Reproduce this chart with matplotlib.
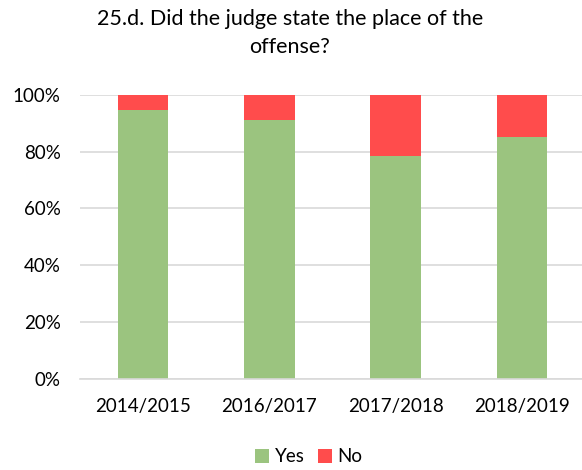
import matplotlib.pyplot as plt
import numpy as np

years = ["2014/2015", "2016/2017", "2017/2018", "2018/2019"]
yes = np.array([94.6, 91.1, 78.5, 85.3])
no = 100 - yes
title_lines = ["25.d. Did the judge state the place of the", "offense?"]

plt.rcParams["font.family"] = ["Lato", "DejaVu Sans"]

fig = plt.figure(figsize=(5.82, 4.70), dpi=100)
ax = fig.add_axes([80 / 582, 1 - 378.5 / 470, 505 / 582, 283.5 / 470])

x = np.arange(len(years))
ax.bar(x, yes, width=0.4, color="#9bc47f", label="Yes", zorder=2)
ax.bar(x, no, width=0.4, bottom=yes, color="#ff4c4c", label="No", zorder=2)

ax.set_xlim(-0.5, len(years) - 0.5)
ax.set_ylim(0, 100)
ax.set_yticks(np.arange(0, 101, 20))
ax.set_yticklabels([f"{v}%" for v in range(0, 101, 20)])
ax.set_xticks(x)
ax.set_xticklabels(years)
ax.yaxis.grid(True, color="#d9d9d9", linewidth=1.2, zorder=0)
ax.tick_params(length=0, labelsize=13.5, colors="#000000")
ax.tick_params(axis="x", pad=14)
ax.tick_params(axis="y", pad=14)
for side in ["top", "right", "left"]:
    ax.spines[side].set_visible(False)
ax.spines["bottom"].set_color("#d9d9d9")
ax.spines["bottom"].set_linewidth(1.2)

# two-line title, each line centred on its own baseline
for line, base in zip(title_lines, [25, 53]):
    fig.text(290 / 582, 1 - base / 470, line, ha="center", va="baseline",
             fontsize=15.5)

fig.legend(loc="center", bbox_to_anchor=(309 / 582, 1 - 457 / 470), ncol=2,
           frameon=False, fontsize=13.5, handlelength=0.75, handleheight=0.75,
           handletextpad=0.3, columnspacing=0.7)

fig.savefig("out.png", dpi=100)
